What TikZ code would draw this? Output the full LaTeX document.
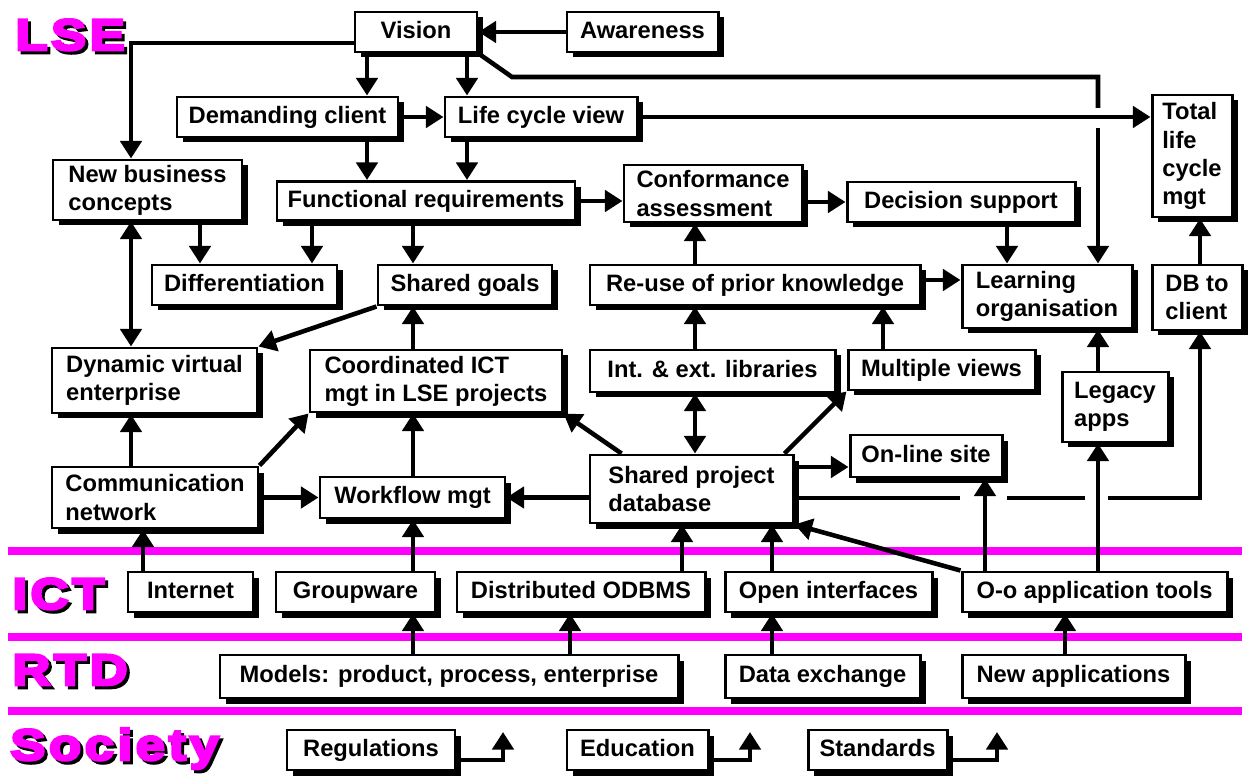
\documentclass[tikz,border=0pt]{standalone}
\usepackage{fontspec}
\setmainfont{Liberation Sans}
\newfontfamily\bandfont[FakeStretch=1.2,FakeBold=6,LetterSpace=8]{Liberation Sans}
\usetikzlibrary{arrows.meta,shadows}
\definecolor{band}{RGB}{255,0,255}
\tikzset{
  blk/.style={draw,line width=1.7pt,fill=white,inner sep=2pt,align=left,
    font=\fontsize{13.5}{16}\selectfont\bfseries,
    drop shadow={shadow xshift=0.11cm,shadow yshift=-0.11cm,opacity=1,fill=black}},
  oneline/.style={blk,text height=10pt,text depth=3pt},
  wire/.style={line width=2.6pt},
  arr/.style={wire,-{Triangle[width=12pt,length=10pt]}},
  arr2/.style={wire,{Triangle[width=12pt,length=10pt]}-{Triangle[width=12pt,length=10pt]}},
  tag/.style={anchor=base west,inner sep=0pt,text=band,font=\bandfont\bfseries\fontsize{25}{25}\selectfont},
  tagshadow/.style={tag,text=black}
}
\begin{document}
\begin{tikzpicture}
  \useasboundingbox (0,0) rectangle (25.02,15.52);
  % layer bands
  \draw[band,line width=0.16cm] (0.16,4.50) -- (24.84,4.50);
  \draw[band,line width=0.16cm] (0.16,2.78) -- (24.84,2.78);
  \draw[band,line width=0.16cm] (0.16,1.30) -- (24.84,1.30);
  \node[tagshadow] (lseS) at (0.36,14.46) {LSE};
  \node[tag] (lse) at (0.30,14.52) {LSE};
  \node[tagshadow] (ictS) at (0.30,3.28) {ICT};
  \node[tag] (ict) at (0.24,3.34) {ICT};
  \node[tagshadow] (rtdS) at (0.30,1.76) {RTD};
  \node[tag] (rtd) at (0.24,1.82) {RTD};
  \node[tagshadow] (socS) at (0.26,0.26) {Society};
  \node[tag] (soc) at (0.20,0.32) {Society};
  % LSE boxes
  \node[oneline,minimum width=2.44cm,minimum height=0.80cm] (vis) at (8.32,14.88) {Vision};
  \node[oneline,minimum width=3.02cm,minimum height=0.80cm] (aw) at (12.85,14.88) {Awareness};
  \node[oneline,minimum width=4.42cm,minimum height=0.80cm] (dc) at (5.75,13.18) {Demanding client};
  \node[oneline,minimum width=3.84cm,minimum height=0.80cm] (lcv) at (10.82,13.18) {Life cycle view};
  \node[blk,minimum width=1.60cm,minimum height=2.44cm] (tlc) at (23.84,12.40) {Total\\life\\cycle\\mgt};
  \node[blk,minimum width=3.78cm,minimum height=1.20cm] (nbc) at (2.95,11.72) {New business\\concepts};
  \node[oneline,minimum width=5.96cm,minimum height=0.78cm] (fr) at (8.52,11.50) {Functional requirements};
  \node[blk,minimum width=3.56cm,minimum height=1.14cm] (ca) at (14.26,11.65) {Conformance\\assessment};
  \node[oneline,minimum width=4.56cm,minimum height=0.80cm] (ds) at (19.22,11.48) {Decision support};
  \node[oneline,minimum width=3.70cm,minimum height=0.80cm] (dif) at (4.89,9.82) {Differentiation};
  \node[oneline,minimum width=3.48cm,minimum height=0.80cm] (sg) at (9.30,9.82) {Shared goals};
  \node[oneline,minimum width=6.60cm,minimum height=0.80cm] (ru) at (15.10,9.82) {Re-use of prior knowledge};
  \node[blk,minimum width=3.40cm,minimum height=1.26cm] (lo) at (20.94,9.59) {Learning\\organisation};
  \node[blk,minimum width=1.80cm,minimum height=1.30cm] (dbc) at (23.94,9.57) {DB to\\client};
  \node[blk,minimum width=4.10cm,minimum height=1.30cm] (dve) at (3.09,7.91) {Dynamic virtual\\enterprise};
  \node[blk,minimum width=5.04cm,minimum height=1.24cm] (cict) at (8.72,7.90) {Coordinated ICT\\mgt in LSE projects};
  \node[oneline,minimum width=4.90cm,minimum height=0.84cm] (iel) at (14.25,8.10) {Int. \& ext. libraries};
  \node[oneline,minimum width=3.74cm,minimum height=0.80cm] (mv) at (18.83,8.12) {Multiple views};
  \node[blk,minimum width=2.12cm,minimum height=1.40cm] (la) at (22.30,7.38) {Legacy\\apps};
  \node[oneline,minimum width=3.04cm,minimum height=0.84cm] (ol) at (18.52,6.40) {On-line site};
  \node[blk,minimum width=4.12cm,minimum height=1.22cm] (cn) at (3.10,5.57) {Communication\\network};
  \node[oneline,minimum width=3.70cm,minimum height=0.82cm] (wf) at (8.25,5.57) {Workflow mgt};
  \node[blk,minimum width=4.06cm,minimum height=1.36cm] (spd) at (13.83,5.74) {Shared project\\database};
  % ICT boxes
  \node[oneline,minimum width=2.50cm,minimum height=0.80cm] (inet) at (3.81,3.68) {Internet};
  \node[oneline,minimum width=3.18cm,minimum height=0.80cm] (gw) at (7.11,3.68) {Groupware};
  \node[oneline,minimum width=4.96cm,minimum height=0.80cm] (odb) at (11.62,3.68) {Distributed ODBMS};
  \node[oneline,minimum width=4.14cm,minimum height=0.80cm] (oif) at (16.57,3.68) {Open interfaces};
  \node[oneline,minimum width=5.30cm,minimum height=0.80cm] (oat) at (21.89,3.68) {O-o application tools};
  % RTD boxes
  \node[oneline,minimum width=9.16cm,minimum height=0.86cm] (mod) at (8.98,1.99) {Models: product, process, enterprise};
  \node[oneline,minimum width=3.90cm,minimum height=0.86cm] (dx) at (16.45,1.99) {Data exchange};
  \node[oneline,minimum width=4.46cm,minimum height=0.86cm] (na) at (21.47,1.99) {New applications};
  % Society boxes
  \node[oneline,minimum width=3.36cm,minimum height=0.80cm] (reg) at (7.42,0.52) {Regulations};
  \node[oneline,minimum width=2.82cm,minimum height=0.80cm] (edu) at (12.75,0.52) {Education};
  \node[oneline,minimum width=2.78cm,minimum height=0.80cm] (std) at (17.55,0.52) {Standards};
  % lanes and rows
  \coordinate (xA) at (2.62,0);
  \coordinate (xB) at (2.86,0);
  \coordinate (xC) at (4.00,0);
  \coordinate (xD) at (6.24,0);
  \coordinate (xE) at (7.34,0);
  \coordinate (xF) at (8.26,0);
  \coordinate (xG) at (9.34,0);
  \coordinate (xH) at (11.40,0);
  \coordinate (xI) at (13.64,0);
  \coordinate (xJ) at (13.90,0);
  \coordinate (xK) at (15.44,0);
  \coordinate (xL) at (17.66,0);
  \coordinate (xM) at (19.70,0);
  \coordinate (xN) at (20.14,0);
  \coordinate (xO) at (21.30,0);
  \coordinate (xP) at (21.96,0);
  \coordinate (xQ) at (24.00,0);
  \coordinate (yA) at (0,14.66);
  \coordinate (yC) at (0,9.92);
  \coordinate (yD) at (0,6.18);
  \coordinate (yE) at (0,5.56);
  \coordinate (yF) at (0,0.32);
  \coordinate (bend) at (10.24,13.98);
  \coordinate (gapT) at (21.96,13.36);
  \coordinate (gapB) at (21.96,12.96);
  \coordinate (g1) at (19.20,5.56);
  \coordinate (g2) at (20.14,5.56);
  \coordinate (g3) at (21.70,5.56);
  \coordinate (g4) at (22.16,5.56);
  \coordinate (upR) at (10.06,0.88);
  \coordinate (upE) at (15.00,0.88);
  \coordinate (upS) at (19.94,0.88);
  % connectors
  \draw[arr] (aw.west) -- (vis.east);
  \draw[arr] (vis.west |- yA) -| (nbc.north -| xA);
  \draw[arr] (vis.south -| xE) -- (dc.north -| xE);
  \draw[arr] (vis.south -| xG) -- (lcv.north -| xG);
  \draw[wire] (vis.south east) -- (bend) -| (gapT);
  \draw[arr] (gapB) -- (lo.north -| gapB);
  \draw[arr] (dc.east) -- (lcv.west);
  \draw[arr] (lcv.east) -- (lcv.east -| tlc.west);
  \draw[arr] (dc.south -| xE) -- (fr.north -| xE);
  \draw[arr] (lcv.south -| xG) -- (fr.north -| xG);
  \draw[arr] (fr.east) -- (fr.east -| ca.west);
  \draw[arr] (ds.west -| ca.east) -- (ds.west);
  \draw[arr] (ds.south -| xN) -- (lo.north -| xN);
  \draw[arr] (nbc.south -| xC) -- (dif.north -| xC);
  \draw[arr] (fr.south -| xD) -- (dif.north -| xD);
  \draw[arr] (fr.south -| xF) -- (sg.north -| xF);
  \draw[arr2] (nbc.south -| xA) -- (dve.north -| xA);
  \draw[arr] (sg.south west) -- (dve.north east);
  \draw[arr] (cict.north -| xF) -- (sg.south -| xF);
  \draw[arr] (ru.north -| xJ) -- (ca.south -| xJ);
  \draw[arr] (ru.east |- yC) -- (lo.west |- yC);
  \draw[arr] (iel.north -| xJ) -- (ru.south -| xJ);
  \draw[arr2] (iel.south -| xJ) -- (spd.north -| xJ);
  \draw[arr] (mv.north -| xL) -- (ru.south -| xL);
  \draw[arr] ([xshift=-0.2cm]spd.north east) -- (mv.south west);
  \draw[arr] ([xshift=0.66cm]spd.north west) -- (cict.south east);
  \draw[arr] (la.north -| xP) -- (lo.south -| xP);
  \draw[arr] (dbc.north -| xQ) -- (tlc.south -| xQ);
  \draw[arr] (cn.north -| xA) -- (dve.south -| xA);
  \draw[arr] (cn.north east) -- (cict.south west);
  \draw[arr] (cn.east) -- (wf.west);
  \draw[arr] (wf.north -| xF) -- (cict.south -| xF);
  \draw[arr] (spd.west |- wf.east) -- (wf.east);
  \draw[arr] (spd.east |- yD) -- (ol.west |- yD);
  \draw[wire] (spd.east |- yE) -- (g1);
  \draw[wire] (g2) -- (g3);
  \draw[arr] (g4) -| (dbc.south -| xQ);
  \draw[arr] (oat.north west) -- (spd.south east);
  \draw[arr] (oat.north -| xM) -- (ol.south -| xM);
  \draw[arr] (oat.north -| xP) -- (la.south -| xP);
  \draw[arr] (inet.north -| xB) -- (cn.south -| xB);
  \draw[arr] (gw.north -| xF) -- (wf.south -| xF);
  \draw[arr] (odb.north -| xI) -- (spd.south -| xI);
  \draw[arr] (oif.north -| xK) -- (spd.south -| xK);
  \draw[arr] (mod.north -| xF) -- (gw.south -| xF);
  \draw[arr] (mod.north -| xH) -- (odb.south -| xH);
  \draw[arr] (dx.north -| xK) -- (oif.south -| xK);
  \draw[arr] (na.north -| xO) -- (oat.south -| xO);
  \draw[arr] (reg.east |- yF) -| (upR);
  \draw[arr] (edu.east |- yF) -| (upE);
  \draw[arr] (std.east |- yF) -| (upS);
\end{tikzpicture}
\end{document}
